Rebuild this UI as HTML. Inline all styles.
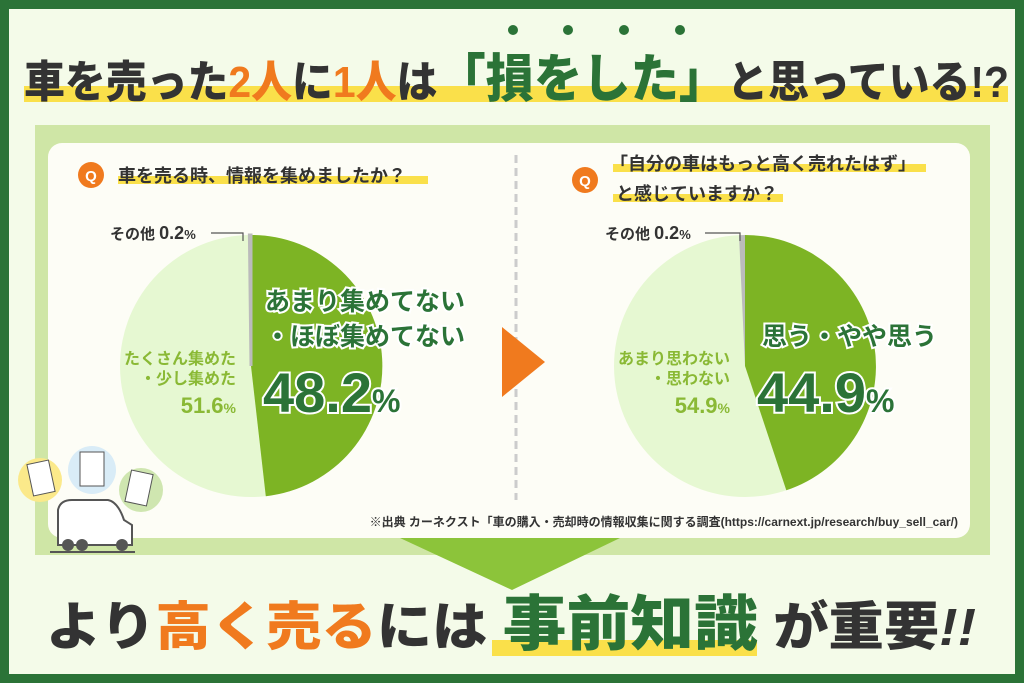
<!DOCTYPE html>
<html><head><meta charset="utf-8"><style>
html,body{margin:0;padding:0}
body{width:1024px;height:683px;overflow:hidden;font-family:"Liberation Sans","Noto Sans CJK JP",sans-serif}
</style></head><body>
<svg width="1024" height="683" viewBox="0 0 1024 683" xmlns="http://www.w3.org/2000/svg" font-family="'Liberation Sans','Noto Sans CJK JP',sans-serif">
<rect x="0" y="0" width="1024" height="683" fill="#2b7337"/>
<rect x="9" y="9" width="1006" height="665" fill="#f4fbe9"/>
<!-- title underline -->
<rect x="24" y="86" width="984" height="16" fill="#fae04a"/>
<g font-weight="900" font-size="44" fill="#333">
<text x="24" y="97" textLength="985" lengthAdjust="spacingAndGlyphs">車を売った<tspan fill="#f07a1e">2人</tspan>に<tspan fill="#f07a1e">1人</tspan>は<tspan fill="#2b7337" font-size="52">「損をした」</tspan>と思っている!?</text>
</g>
<g fill="#2b7337"><circle cx="513" cy="30" r="5"/><circle cx="568" cy="30" r="5"/><circle cx="624" cy="30" r="5"/><circle cx="680" cy="30" r="5"/></g>
<!-- panel -->
<rect x="35" y="125" width="955" height="430" fill="#cfe6a6"/>
<rect x="48" y="143" width="922" height="395" rx="14" fill="#fdfdf6"/>
<line x1="516" y1="155" x2="516" y2="500" stroke="#ccc" stroke-width="3" stroke-dasharray="8,5"/>
<!-- down arrow -->
<polygon points="400,538 620,538 512,590" fill="#8cc43a"/>
<!-- right arrow -->
<polygon points="502,327 545,362 502,397" fill="#f07a1e"/>
<!-- Q labels -->
<rect x="118" y="176" width="310" height="8" fill="#fae04a"/>
<circle cx="91" cy="175" r="13" fill="#f07a1e"/><text x="91" y="181" font-size="15" font-weight="700" fill="#fff" text-anchor="middle">Q</text>
<text x="118" y="182" font-size="18" font-weight="700" fill="#333">車を売る時、情報を集めましたか？</text>
<rect x="613" y="164" width="313" height="8" fill="#fae04a"/>
<rect x="613" y="194" width="170" height="8" fill="#fae04a"/>
<circle cx="585" cy="180" r="13" fill="#f07a1e"/><text x="585" y="186" font-size="15" font-weight="700" fill="#fff" text-anchor="middle">Q</text>
<text x="610" y="170" font-size="18" font-weight="700" fill="#333">「自分の車はもっと高く売れたはず」</text>
<text x="616" y="200" font-size="18" font-weight="700" fill="#333">と感じていますか？</text>
<!-- pie 1 center 251,366 r130 -->
<circle cx="251" cy="366" r="131" fill="#e6f8d2"/>
<path d="M251,366 L251,235 A131,131 0 0 1 265.8,496.2 Z" fill="#7db424"/>
<path d="M251,366 L249.4,235 A131,131 0 0 1 251,235 Z" fill="#bbb" stroke="#bbb" stroke-width="3"/>
<polyline points="211,233 243,233 243,241" fill="none" stroke="#555" stroke-width="1.2"/>
<text x="110" y="239" font-size="15" font-weight="700" fill="#333">その他 <tspan font-size="18">0.2</tspan><tspan font-size="13">%</tspan></text>
<g font-weight="700" fill="#2b7337" stroke="#fff" stroke-width="4" paint-order="stroke">
<text x="265" y="310" font-size="25">あまり集めてない</text>
<text x="265" y="345" font-size="25">・ほぼ集めてない</text>
<text x="263" y="412" font-size="56">48.2<tspan font-size="32">%</tspan></text>
</g>
<g font-weight="700" fill="#8ab935">
<text x="236" y="364" font-size="16" text-anchor="end">たくさん集めた</text>
<text x="236" y="384" font-size="16" text-anchor="end">・少し集めた</text>
<text x="236" y="413" font-size="22" text-anchor="end">51.6<tspan font-size="14">%</tspan></text>
</g>
<!-- pie 2 center 745,366 -->
<circle cx="745" cy="366" r="131" fill="#e6f8d2"/>
<path d="M745,366 L745,235 A131,131 0 0 1 786.3,490.3 Z" fill="#7db424"/>
<path d="M745,366 L739,235.2 A131,131 0 0 1 745,235 Z" fill="#bbb"/>
<polyline points="705,233 740,233 740,241" fill="none" stroke="#555" stroke-width="1.2"/>
<text x="605" y="239" font-size="15" font-weight="700" fill="#333">その他 <tspan font-size="18">0.2</tspan><tspan font-size="13">%</tspan></text>
<g font-weight="700" fill="#2b7337" stroke="#fff" stroke-width="4" paint-order="stroke">
<text x="762" y="345" font-size="25">思う・やや思う</text>
<text x="757" y="412" font-size="56">44.9<tspan font-size="32">%</tspan></text>
</g>
<g font-weight="700" fill="#8ab935">
<text x="730" y="364" font-size="16" text-anchor="end">あまり思わない</text>
<text x="730" y="384" font-size="16" text-anchor="end">・思わない</text>
<text x="730" y="413" font-size="22" text-anchor="end">54.9<tspan font-size="14">%</tspan></text>
</g>
<text x="958" y="526" font-size="12" font-weight="700" fill="#333" text-anchor="end">※出典 カーネクスト「車の購入・売却時の情報収集に関する調査(https://carnext.jp/research/buy_sell_car/)</text>
<!-- illustration -->
<circle cx="40" cy="480" r="22" fill="#fbe98a"/>
<circle cx="92" cy="470" r="24" fill="#d9ecf7"/>
<circle cx="141" cy="490" r="22" fill="#cfe6b0"/>
<rect x="30" y="462" width="22" height="32" fill="#fff" stroke="#555" transform="rotate(-12 41 478)"/>
<rect x="80" y="452" width="24" height="34" fill="#fff" stroke="#555"/>
<rect x="128" y="472" width="22" height="32" fill="#fff" stroke="#555" transform="rotate(12 139 488)"/>
<path d="M58,545 L58,510 Q60,500 72,500 L108,500 Q118,502 124,520 L132,525 L132,545 Z" fill="#fff" stroke="#555" stroke-width="2"/>
<circle cx="68" cy="545" r="6" fill="#555"/><circle cx="82" cy="545" r="6" fill="#555"/><circle cx="122" cy="545" r="6" fill="#555"/>
<line x1="50" y1="552" x2="135" y2="552" stroke="#555" stroke-width="2"/>
<!-- bottom text -->
<rect x="492" y="640" width="265" height="16" fill="#fae04a"/>
<text x="46" y="645" font-size="52" font-weight="900" fill="#333" textLength="930" lengthAdjust="spacingAndGlyphs">より<tspan fill="#f07a1e">高く売る</tspan>には <tspan fill="#2b7337" font-size="60">事前知識</tspan> が重要<tspan font-style="italic">!!</tspan></text>
</svg>
</body></html>
